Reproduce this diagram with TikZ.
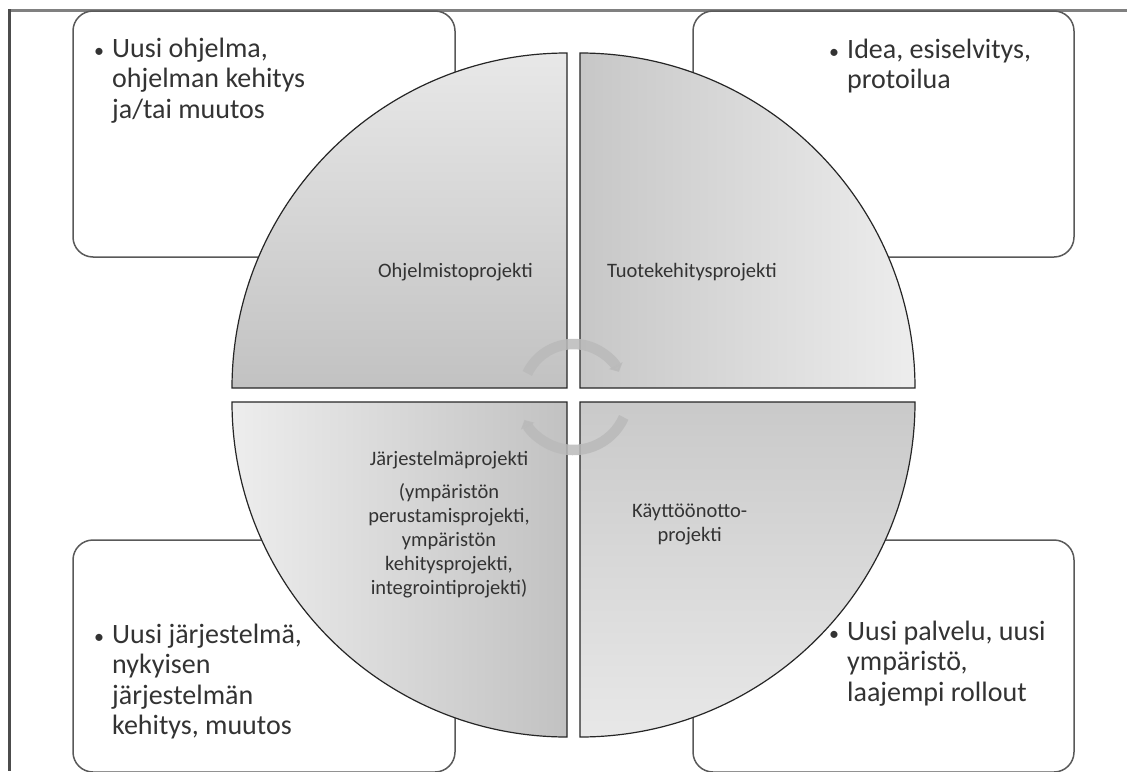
\documentclass[tikz,border=0pt]{standalone}
\usepackage{fontspec}
\setmainfont{Carlito}
\usetikzlibrary{arrows.meta,positioning}

\newcommand{\notebullet}{\makebox[15pt][l]{\hspace{-3pt}\fontsize{20}{20}\selectfont\textbullet}}

\begin{document}
\begin{tikzpicture}[x=1pt,y=-1pt,
box/.style={draw=black!65,line width=1.5pt,rounded corners=20pt,fill=white},
quarter/.style={draw=black!85,line width=1.2pt},
note/.style={inner sep=0pt,anchor=base west,text=black!80,font=\fontsize{28}{30.5}\selectfont},
quartertext/.style={inner sep=0pt,text=black!80,font=\fontsize{20.5}{24}\selectfont},
turnarrow/.style={line width=10.5pt,draw=black!27,opacity=0.85,-{Triangle[length=7pt,width=15pt]}}
]
\useasboundingbox (0,0) rectangle (1127,771);

% frame
\draw[line width=3pt,black!50] (8,10) -- (1127,10);
\draw[line width=3pt,black!70] (9,9) -- (9,771);

% corner boxes
\draw[box] (73,11) rectangle (455,257);
\draw[box] (693,11) rectangle (1074,257);
\draw[box] (73,540) rectangle (455,772);
\draw[box] (693,540) rectangle (1074,772);

% quarters of the circle
\draw[quarter,top color=black!9,bottom color=black!24] (567,388) -- (232,388) arc[start angle=180,end angle=270,radius=335] -- cycle;
\draw[quarter,left color=black!22,right color=black!7] (580,388) -- (915,388) arc[start angle=0,end angle=-90,radius=335] -- cycle;
\draw[quarter,left color=black!7,right color=black!24] (567,402) -- (232,402) arc[start angle=180,end angle=90,radius=335] -- cycle;
\draw[quarter,top color=black!21,bottom color=black!9] (580,402) -- (915,402) arc[start angle=0,end angle=90,radius=335] -- cycle;

% turning arrows
\coordinate (hub) at (573.5,395);
\draw[turnarrow] ([shift={(-155:51)}]hub) arc[start angle=-155,end angle=-27,radius=51];
\draw[turnarrow] ([shift={(24:55)}]hub) arc[start angle=24,end angle=153,radius=55];

% texts in the quarters
\node[quartertext,anchor=base east] (ohj) at (533,277) {Ohjelmistoprojekti};
\node[quartertext,anchor=base west] (tuo) at (607,277) {Tuotekehitysprojekti};
\node[quartertext,anchor=base] (jar) at (449,465) {\begin{tabular}[t]{@{}c@{}}J\"arjestelm\"aprojekti\\[9pt]
(ymp\"arist\"on\\ perustamisprojekti,\\ ymp\"arist\"on\\ kehitysprojekti,\\ integrointiprojekti)\end{tabular}};
\node[quartertext,anchor=base west] (kay) at (632,517) {\begin{tabular}[t]{@{}c@{}}K\"aytt\"o\"onotto-\\ projekti\end{tabular}};

% notes in the boxes
\node[note] (ohjnote) at (97,57) {\begin{tabular}[t]{@{}l@{}l@{}}\notebullet & Uusi ohjelma,\\ & ohjelman kehitys\\ & ja/tai muutos\end{tabular}};
\node[note] (tuonote) at (832,58) {\begin{tabular}[t]{@{}l@{}l@{}}\notebullet & Idea, esiselvitys,\\ & protoilua\end{tabular}};
\node[note] (jarnote) at (97,643) {\begin{tabular}[t]{@{}l@{}l@{}}\notebullet & Uusi j\"arjestelm\"a,\\ & nykyisen\\ & j\"arjestelm\"an\\ & kehitys, muutos\end{tabular}};
\node[note] (kaynote) at (832,640) {\begin{tabular}[t]{@{}l@{}l@{}}\notebullet & Uusi palvelu, uusi\\ & ymp\"arist\"o,\\ & laajempi rollout\end{tabular}};
\end{tikzpicture}
\end{document}
